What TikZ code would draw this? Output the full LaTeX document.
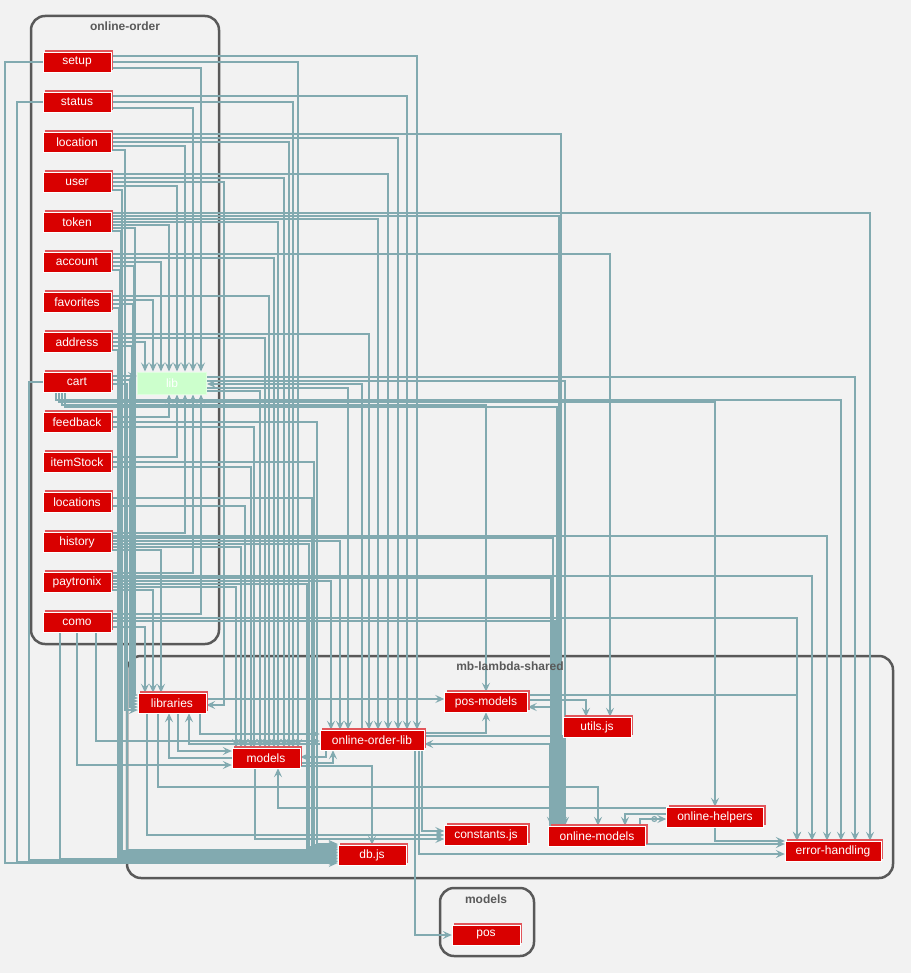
\documentclass[tikz,border=0pt]{standalone}
\usepackage{fontspec}
\setmainfont{Liberation Sans}
\usepackage{xcolor}
\usepackage{tikz}
\usetikzlibrary{arrows.meta,positioning,calc,shadows,backgrounds}
\definecolor{modred}{HTML}{D90000}
\definecolor{modedge}{HTML}{E2555A}
\definecolor{deplink}{HTML}{82AAB0}
\definecolor{clusline}{HTML}{595959}
\definecolor{pagebg}{HTML}{F2F2F2}
\definecolor{libfill}{HTML}{CCFFCC}
\pgfdeclarelayer{bg}
\pgfsetlayers{bg,background,main}
\tikzset{
  mbox/.style={rectangle,fill=modred,draw=white,line width=0.4pt,text=white,
    font=\fontsize{12}{14}\selectfont,minimum width=68pt,minimum height=20pt,inner sep=0pt,
    copy shadow={shadow xshift=2pt,shadow yshift=2pt,fill=modedge,draw=none}},
  mfold/.style={rectangle,fill=libfill,draw=white!40!libfill,line width=1pt,text=white,
    font=\fontsize{12}{14}\selectfont,minimum width=69pt,minimum height=22pt,inner sep=0pt},
  mclus/.style={draw=clusline,line width=2.5pt,rounded corners=14pt},
  mtitle/.style={font=\bfseries\fontsize{12}{14}\selectfont,text=clusline},
  mdep/.style={draw=deplink,line width=1.2pt,-{Stealth[length=9pt,width=8pt,inset=3.5pt]}},
  mdot/.style={mdep,-{Circle[open,length=6pt,width=6pt] Stealth[length=9pt,width=8pt,inset=3.5pt]}},
}

\begin{document}
\begin{tikzpicture}[x=1pt,y=-1pt]
\useasboundingbox (0,0) rectangle (911,973);
\begin{pgfonlayer}{bg}
\fill[pagebg] (0,0) rectangle (911,973);
\draw[mclus] (31,16) rectangle (219,644);
\draw[mclus] (127,656) rectangle (893,878);
\draw[mclus] (440,888) rectangle (534,956);
\end{pgfonlayer}
\node[mtitle] (ttlOrder) at (125,26) {online-order};
\node[mtitle] (ttlShared) at (510,666) {mb-lambda-shared};
\node[mtitle] (ttlModels) at (486,899) {models};
% online-order modules
\foreach \n/\y in {setup/62,status/102,location/142,user/182,token/222,account/262,
  favorites/302,address/342,cart/382,feedback/422,itemStock/462,locations/502,
  history/542,paytronix/582,como/622}
  \node[mbox] (\n) at (77,\y) {\n};
\node[mfold] (lib) at (172,383) {lib};
% mb-lambda-shared modules
\node[mbox] (libraries) at (172,703) {libraries};
\node[mbox,minimum width=83pt] (posm) at (486,702) {pos-models};
\node[mbox] (utils) at (597,727) {utils.js};
\node[mbox,minimum width=104pt] (ool) at (372,740) {online-order-lib};
\node[mbox] (models) at (266,758) {models};
\node[mbox,minimum width=97pt] (ohelp) at (715,817) {online-helpers};
\node[mbox,minimum width=97pt] (omod) at (597,836) {online-models};
\node[mbox,minimum width=83pt] (consts) at (486,835) {constants.js};
\node[mbox,minimum width=96pt] (errh) at (833,851) {error-handling};
\node[mbox] (db) at (372,855) {db.js};
% models
\node[mbox] (pos) at (486,935) {pos};

\begin{pgfonlayer}{background}
% online-order -> tops of shared modules
\foreach \src/\dy/\cx/\tg in {
  setup/-6/417/ool, setup/0/298/models, setup/6/201/lib,
  status/-6/407/ool, status/0/293/models, status/6/193/lib,
  location/-8/561/omod, location/-4/398/ool, location/0/289/models, location/4/185/lib,
  user/-8/388/ool, user/-4/284/models, user/4/177/lib,
  token/-9/870/errh, token/-6/559/omod, token/-3/378/ool, token/0/278/models, token/3/169/lib,
  account/-8/610/utils, account/-4/274/models, account/0/161/lib,
  favorites/-6/269/models, favorites/-2/153/lib,
  address/-8/369/ool, address/-4/265/models, address/0/145/lib,
  feedback/5/254/models, itemStock/5/251/models, locations/4/245/models,
  history/-6/827/errh, history/-4/553/omod, history/-1/340/ool, history/5/241/models, history/8/161/libraries,
  paytronix/-6/812/errh, paytronix/-4/551/omod, paytronix/-1/331/ool, paytronix/5/236/models, paytronix/8/153/libraries,
  como/-4/797/errh, como/-1/555/omod, como/5/145/libraries}
  \draw[mdep] ($(\src.east)+(0,\dy)$) -| (\cx,0 |- \tg.north);
% lower modules -> lib from below
\foreach \src/\dy/\cx in {feedback/-5/169, itemStock/-5/177, history/-9/185, paytronix/-9/193, como/-8/201}
  \draw[mdep] ($(\src.east)+(0,\dy)$) -| (\cx,0 |- lib.south);
\draw[mdep] ($(cart.east)+(0,-6)$) -- (lib.west |- 0,376);
% db.js bundle from the left
\foreach \src/\dy/\cx/\ty in {user/8/122/851, token/9/121/852.5, account/8/120/854,
  favorites/6/119/855.5, address/8/118/857, cart/2/127/849.5, feedback/0/317/844,
  itemStock/0/314/845, locations/-4/312/846, history/2/309/847, paytronix/2/307/848}
  \draw[mdep] ($(\src.east)+(0,\dy)$) -| (\cx,\ty) -- (db.west |- 0,\ty);
\draw[mdep] (setup.west) -| (5,863) -- (db.west |- 0,863);
\draw[mdep] (status.west) -| (17,861.5) -- (db.west |- 0,861.5);
\draw[mdep] (cart.west) -| (29,860) -- (db.west |- 0,860);
\draw[mdep] ([xshift=-17pt]como.south) |- (db.west |- 0,858.5);
\draw[mdep] (como.south) |- ($(models.west)+(0,7)$);
\draw[mdep] ([xshift=19pt]como.south) |- ($(ool.west)+(0,1)$);
% libraries bundle from the left
\foreach \src/\dy/\cx/\ty in {token/6/135/695, account/4/134/698, favorites/2/133/701,
  address/4/132/704, cart/-2/130/707, location/8/125/710}
  \draw[mdep] ($(\src.east)+(0,\dy)$) -| (\cx,\ty) -- (libraries.west |- 0,\ty);
\draw[mdep] (user.east) -| (224,705) -- (libraries.east |- 0,705);
% lib folder
\foreach \dy/\cx/\tg in {-6/855/errh, -2/565/omod, 5/348/ool, 8/260/models}
  \draw[mdep] ($(lib.east)+(0,\dy)$) -| (\cx,0 |- \tg.north);
\draw[mdep] ([xshift=-10pt]ool.north) |- ($(lib.east)+(0,1)$);
% cart goes round underneath lib
\foreach \dx/\yy/\cx/\tg in {-21/400/841/errh, -18/402/715/ohelp, -15/405/486/posm, -12/407/557/omod}
  \draw[mdep] ([xshift=\dx pt]cart.south) |- (\cx,\yy) -- (\cx,0 |- \tg.north);
% inside mb-lambda-shared
\draw[mdep] ([xshift=28pt]libraries.south) |- ($(ool.west)+(0,-6)$);
\draw[mdep] ([xshift=6pt]libraries.south) |- ($(models.west)+(0,-7)$);
\draw[mdep] (models.west) -| ([xshift=-3pt]libraries.south);
\draw[mdep] ($(ool.west)+(0,4)$) -| ([xshift=17pt]libraries.south);
\draw[mdep] ($(libraries.east)+(0,-4)$) -- ($(posm.west)+(0,-3)$);
\draw[mdep] ([xshift=-25pt]libraries.south) |- (consts.west);
\draw[mdep] ([xshift=-14pt]libraries.south) |- (598,787) -- ([xshift=1pt]omod.north);
\draw[mdep] ($(models.east)+(0,5)$) -| ([xshift=-39pt]ool.south);
\draw[mdep] ([xshift=-46pt]ool.south) |- ($(models.east)+(0,-1)$);
\draw[mdep] ($(models.east)+(0,8)$) -| (db.north);
\draw[mdep] ([xshift=-11pt]models.south) |- ($(consts.west)+(0,4)$);
\draw[mdep] ([xshift=43pt]ool.south) |- (pos.west);
\draw[mdep] ([xshift=47pt]ool.south) |- ($(errh.west)+(0,3)$);
\draw[mdep] ([xshift=50pt]ool.south) |- ($(consts.west)+(0,-4)$);
\draw[mdep] ($(ool.east)+(0,-7)$) -| (posm.south);
\draw[mdep] ($(ool.east)+(0,-4)$) -| ([xshift=-34pt]omod.north);
\draw[mdep] ([xshift=-47pt]omod.north) |- ($(ool.east)+(0,4)$);
\draw[mdep] ([xshift=-44pt]omod.north) |- ($(posm.east)+(0,5)$);
\draw[mdep] ($(posm.east)+(0,-2)$) -| ([xshift=-11pt]utils.north);
\draw[mdep] ($(posm.east)+(0,-7)$) -| ([xshift=-36pt]errh.north);
\draw[mdep] ($(ohelp.west)+(0,-9)$) -| ([xshift=12pt]models.south);
\draw[mdep] ($(ohelp.west)+(0,-3)$) -| ([xshift=28pt]omod.north);
\draw[mdot] ([xshift=43pt]omod.north) |- ($(ohelp.west)+(0,2)$);
\draw[mdep] (ohelp.south) |- ($(errh.west)+(0,-10)$);
\draw[mdep] ($(omod.east)+(0,8)$) -- ($(errh.west)+(0,-7)$);
\end{pgfonlayer}
\end{tikzpicture}
\end{document}
